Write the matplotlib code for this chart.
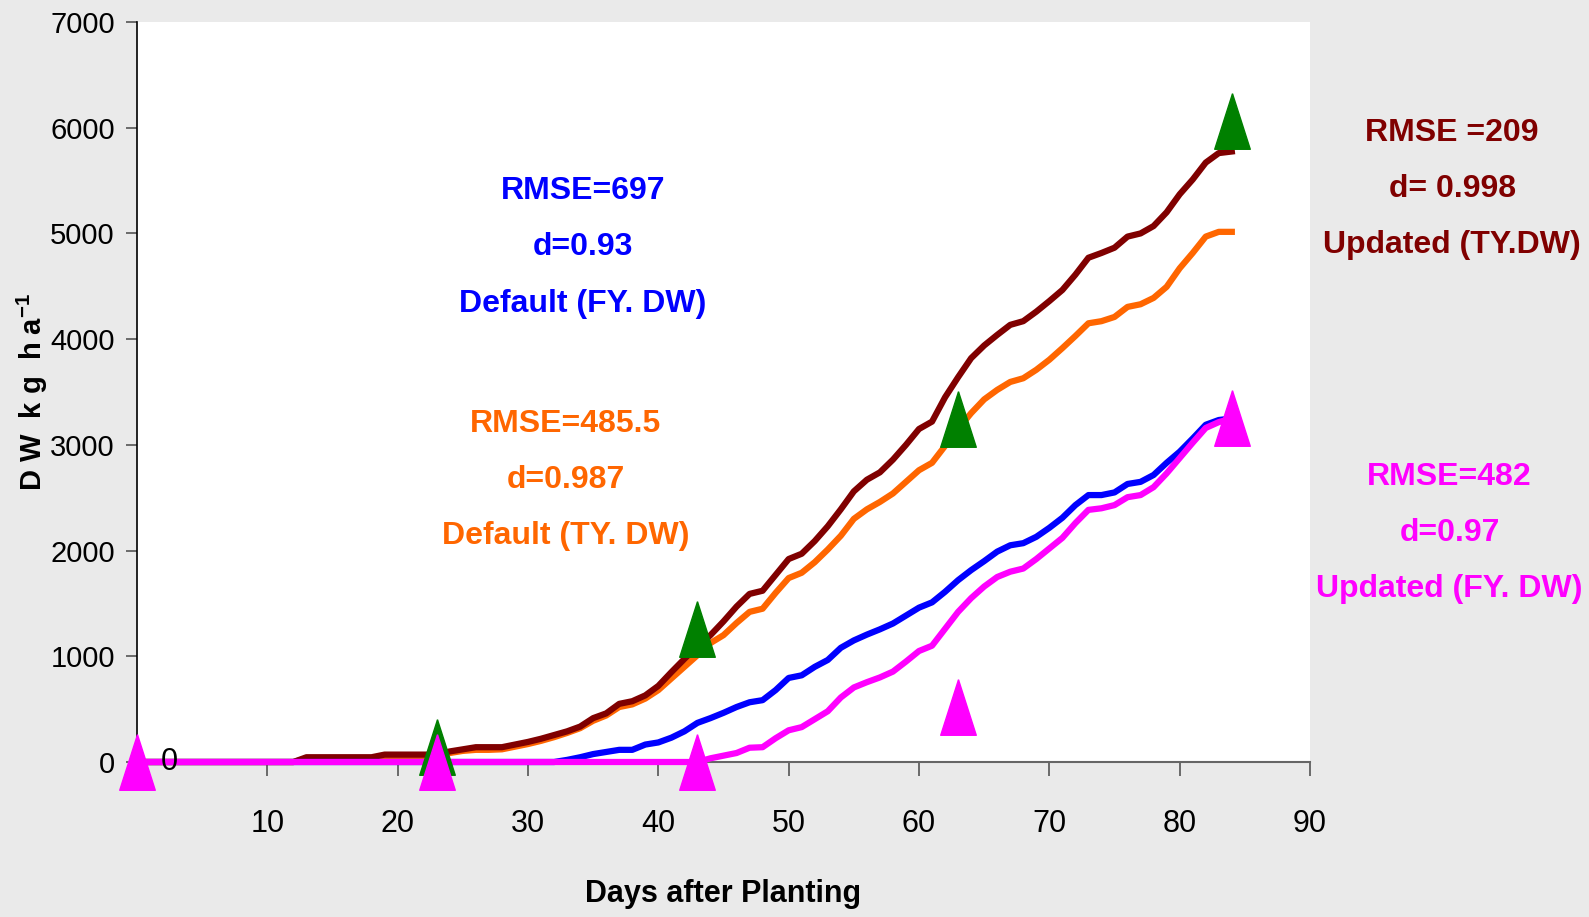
import matplotlib
matplotlib.use("Agg")
import matplotlib.pyplot as plt
import numpy as np

plt.rcParams['font.family'] = ['Liberation Sans', 'DejaVu Sans']
plt.rcParams['mathtext.fontset'] = 'custom'
plt.rcParams['mathtext.rm'] = 'Liberation Sans'
plt.rcParams['mathtext.bf'] = 'Liberation Sans:bold'

#----------------- simulated dry weight, one value per day (0..84)
days = np.arange(0, 85)

updated_ty = [0]*13 + [45]*6 + [70]*5 + [
    100, 120, 140, 140, 140, 165, 190, 220, 255, 290, 335, 415, 460, 550, 575,
    630, 720, 850, 975, 1090, 1200, 1330, 1470, 1590, 1620, 1770, 1920, 1970,
    2090, 2230, 2390, 2560, 2670, 2740, 2860, 3000, 3150, 3220, 3450, 3640,
    3820, 3940, 4040, 4135, 4170, 4260, 4360, 4465, 4610, 4770, 4815, 4865,
    4970, 5000, 5070, 5200, 5370, 5510, 5670, 5760, 5775]

default_ty = [0]*13 + [35]*6 + [55]*5 + [
    85, 105, 115, 115, 120, 145, 170, 200, 235, 275, 320, 390, 440, 520, 545,
    600, 680, 790, 900, 1010, 1125, 1200, 1315, 1420, 1450, 1600, 1740, 1790,
    1890, 2010, 2140, 2300, 2390, 2460, 2540, 2650, 2760, 2830, 2990, 3150,
    3300, 3430, 3520, 3595, 3630, 3710, 3805, 3915, 4030, 4150, 4170, 4210,
    4305, 4330, 4390, 4495, 4670, 4815, 4970, 5015, 5015]

default_fy = [0]*33 + [
    20, 45, 75, 95, 115, 115, 165, 185, 230, 290, 370, 415, 465, 520, 565,
    585, 680, 795, 820, 900, 965, 1080, 1150, 1205, 1255, 1310, 1385, 1460,
    1510, 1610, 1720, 1815, 1900, 1990, 2050, 2070, 2130, 2215, 2310, 2430,
    2525, 2525, 2550, 2630, 2650, 2715, 2830, 2935, 3060, 3190, 3235, 3250]

updated_fy = [0]*44 + [
    35, 60, 85, 135, 140, 225, 300, 330, 405, 480, 610, 705, 755, 800, 855,
    950, 1050, 1100, 1260, 1420, 1550, 1660, 1750, 1800, 1830, 1920, 2020,
    2120, 2260, 2385, 2400, 2430, 2505, 2525, 2600, 2730, 2875, 3020, 3160,
    3215, 3250]

#----------------- observed dry weight
obs_days_ty = [23, 43, 63, 84]
obs_ty = [140, 1260, 3240, 6060]
obs_days_fy = [0, 23, 43, 63, 84]
obs_fy = [0, 0, 0, 520, 3250]

# tall, narrow triangle marker
tri = [(0, 1), (-0.64, -1), (0.64, -1), (0, 1)]

fig = plt.figure(figsize=(15.89, 9.17), dpi=100, facecolor='#eaeaea')
ax = fig.add_axes([137/1589, 1 - 762/917, 1173/1589, 740/917])
ax.set_facecolor('white')

lw = 4.5
ax.plot(days, default_ty, color='#ff6600', lw=lw, clip_on=False, zorder=3)
ax.plot(days, updated_ty, color='#800000', lw=lw, clip_on=False, zorder=4)
ax.plot(days, default_fy, color='#0000ff', lw=lw, clip_on=False, zorder=5)
ax.plot(days, updated_fy, color='#ff00ff', lw=lw, clip_on=False, zorder=6)

ax.plot(obs_days_ty, obs_ty, ls='none', marker=tri, ms=40, color='#008000',
        mec='#008000', clip_on=False, zorder=7)
ax.plot(obs_days_fy, obs_fy, ls='none', marker=tri, ms=40, color='#ff00ff',
        mec='#ff00ff', clip_on=False, zorder=8)

ax.set_xlim(0, 90)
ax.set_ylim(0, 7000)
ax.set_xticks(range(10, 91, 10))
ax.set_yticks(range(0, 7001, 1000))
ax.tick_params(axis='x', direction='out', length=10, width=1.2, color='#555555',
               labelsize=22, pad=24)
ax.tick_params(axis='y', direction='out', length=8, width=1.2, color='#555555',
               labelsize=21, pad=8)
for s in ['top', 'right']:
    ax.spines[s].set_visible(False)
ax.spines['left'].set_color('black')
ax.spines['left'].set_linewidth(1.2)
ax.spines['bottom'].set_color('#666666')
ax.spines['bottom'].set_linewidth(1.5)

ax.text(2.5, 0, '0', fontsize=22, ha='center', va='center', zorder=9)

ax.set_xlabel('Days after Planting', fontsize=22, fontweight='bold')
ax.xaxis.set_label_coords(0.5, -0.158)
ax.text(-0.089, 0.5, r'D W  k g  h a$^{\mathbf{-1}}$', transform=ax.transAxes,
        rotation=90, fontsize=21, fontweight='bold', ha='center', va='center')

# goodness-of-fit annotations
notes = [
    (34.2, 4870, 'RMSE=697\nd=0.93\nDefault (FY. DW)', '#0000ff'),
    (32.9, 2668, 'RMSE=485.5\nd=0.987\nDefault (TY. DW)', '#ff6600'),
    (100.9, 5420, 'RMSE =209\nd= 0.998\nUpdated (TY.DW)', '#800000'),
    (100.7, 2166, 'RMSE=482\nd=0.97\nUpdated (FY. DW)', '#ff00ff'),
]
for x, y, txt, c in notes:
    ax.text(x, y, txt, color=c, fontsize=23, fontweight='bold', ha='center',
            va='center', linespacing=2.15, clip_on=False)

fig.savefig('out.png', dpi=100, facecolor=fig.get_facecolor())
